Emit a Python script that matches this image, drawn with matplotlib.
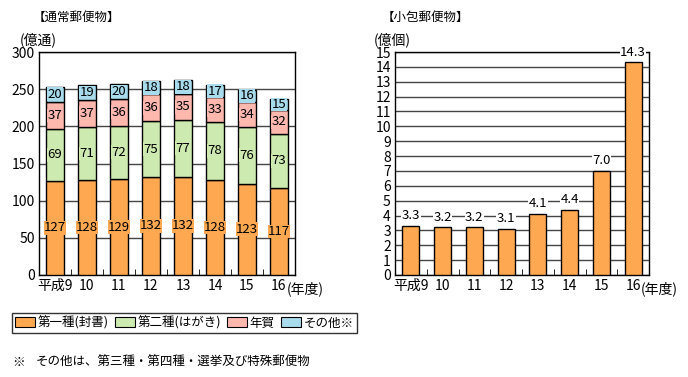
import matplotlib
matplotlib.use("Agg")
import matplotlib.pyplot as plt
from matplotlib.patches import Patch
import numpy as np

plt.rcParams['font.family'] = ['Noto Sans CJK JP', 'DejaVu Sans']
plt.rcParams['font.size'] = 8.5

years = ["平成9", "10", "11", "12", "13", "14", "15", "16"]
first_class = [127, 128, 129, 132, 132, 128, 123, 117]
second_class = [69, 71, 72, 75, 77, 78, 76, 73]
nenga = [37, 37, 36, 36, 35, 33, 34, 32]
other = [20, 19, 20, 18, 18, 17, 16, 15]
parcels = [3.3, 3.2, 3.2, 3.1, 4.1, 4.4, 7.0, 14.3]

series_names = ["第一種(封書)", "第二種(はがき)", "年賀", "その他※"]
colors = ["#FFA852", "#CDEBB0", "#FFB8AE", "#A8DCEC"]

fig = plt.figure(figsize=(6.88, 3.77), dpi=100)
W, H = 688, 377

def axrect(x0, y0, x1, y1):
    return [x0 / W, 1 - y1 / H, (x1 - x0) / W, (y1 - y0) / H]

ax1 = fig.add_axes(axrect(39, 52, 295, 275))
ax2 = fig.add_axes(axrect(395, 52, 649, 275))

x = np.arange(len(years))

def style(ax, ymax, step):
    ax.set_xlim(-0.5, len(years) - 0.5)
    ax.set_ylim(0, ymax)
    ax.set_yticks(np.arange(0, ymax + step / 2, step))
    ax.yaxis.grid(True, color="#444444", linewidth=1)
    ax.set_axisbelow(True)
    for s in ax.spines.values():
        s.set_color("black")
        s.set_linewidth(1)
    ax.tick_params(axis="y", length=0, pad=3, labelsize=10)
    ax.set_xticks(x)
    ax.set_xticklabels(years, fontsize=10)
    ax.tick_params(axis="x", which="major", length=0, pad=3)
    ax.set_xticks(x[:-1] + 0.5, minor=True)
    ax.tick_params(axis="x", which="minor", direction="in", length=4, color="black")

# Left stacked chart
data = [first_class, second_class, nenga, other]
bottom = np.zeros(len(years))
for vals, c, name in zip(data, colors, series_names):
    vals = np.array(vals)
    ax1.bar(x, vals, width=0.56, bottom=bottom, color=c, edgecolor="black", linewidth=1, zorder=3)
    for xi, b, v in zip(x, bottom, vals):
        ax1.text(xi, b + v / 2, f"{v}", ha="center", va="center", fontsize=9.5, zorder=4,
                 bbox=dict(facecolor=c, edgecolor="none", pad=0.3))
    bottom += vals
style(ax1, 300, 50)

# Right chart
ax2.bar(x, parcels, width=0.54, color=colors[0], edgecolor="black", linewidth=1, zorder=3)
for xi, v in zip(x, parcels):
    ax2.text(xi, v + 0.25, f"{v:.1f}", ha="center", va="bottom", fontsize=9.5, zorder=4,
             bbox=dict(facecolor="white", edgecolor="none", pad=0.3), clip_on=False)
style(ax2, 15, 1)

# (年度) labels
for ax in (ax1, ax2):
    ax.text(7.25, -0.028, "(年度)", transform=ax.get_xaxis_transform(), ha="left", va="top", fontsize=10)

# Titles
fig.text(33 / W, 1 - 17 / H, "【通常郵便物】", ha="left", va="center", fontsize=9)
fig.text(20 / W, 1 - 40 / H, "(億通)", ha="left", va="center", fontsize=10)
fig.text(382 / W, 1 - 17 / H, "【小包郵便物】", ha="left", va="center", fontsize=9)
fig.text(374 / W, 1 - 40 / H, "(億個)", ha="left", va="center", fontsize=10)

# Legend
handles = [Patch(facecolor=c, edgecolor="black", linewidth=0.8) for c in colors]
leg = fig.legend(handles, series_names, loc="upper left", bbox_to_anchor=(12 / W, 1 - 313 / H),
                 ncol=4, frameon=True, fancybox=False, edgecolor="black", fontsize=9,
                 handlelength=1.6, handleheight=0.8, handletextpad=0.2, columnspacing=0.5,
                 borderpad=0.25, borderaxespad=0)
leg.get_frame().set_linewidth(1)

# Footnote
fig.text(12 / W, 1 - 362 / H, "※", ha="left", va="center", fontsize=9)
fig.text(36 / W, 1 - 362 / H, "その他は、第三種・第四種・選挙及び特殊郵便物", ha="left", va="center", fontsize=9)

fig.savefig("out.png", dpi=100)
